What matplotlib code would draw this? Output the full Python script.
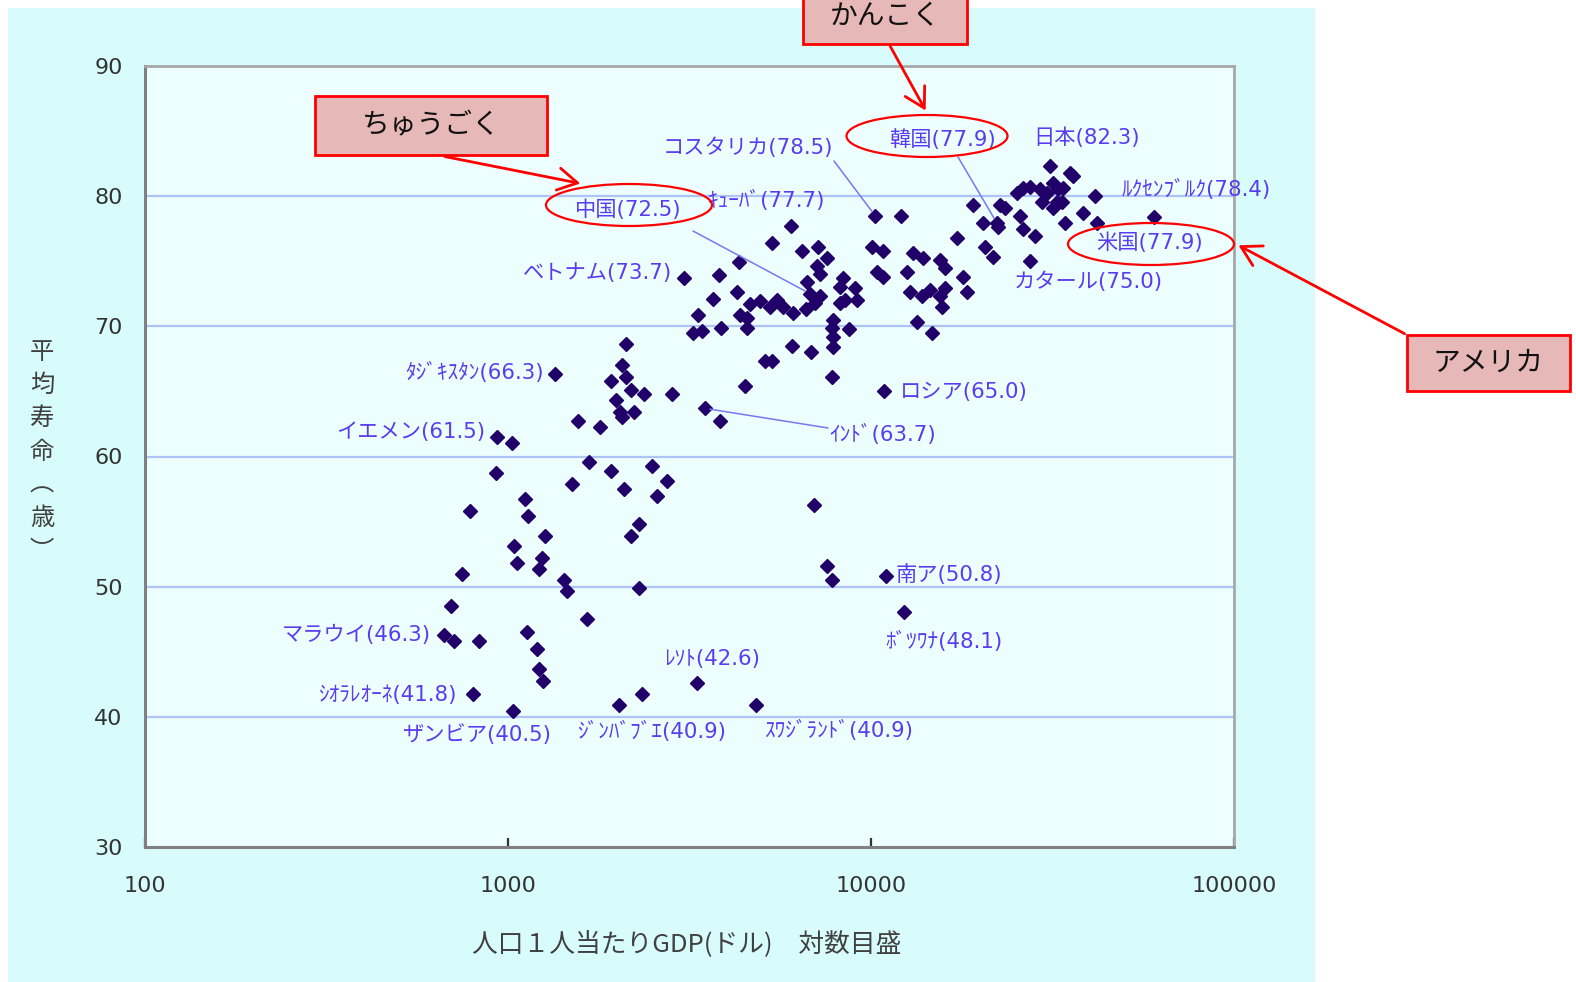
import matplotlib
matplotlib.use('Agg')
import matplotlib.pyplot as plt
from matplotlib.patches import Ellipse, Rectangle, FancyArrowPatch

# ---------------- data ----------------
gdp_other = [
    2114, 2061, 2114, 1922, 2182, 2369, 2830, 1984, 2035, 2061, 2225, 1559, 1793,
    1026, 1672, 1922, 2494, 2742, 2573, 2088, 1501, 927, 1114, 786, 1136, 2295,
    2182, 1265, 1039, 1059, 1241, 1217, 747, 1427, 1454, 2295, 697, 1651, 710,
    832, 1128, 1202, 1217, 1249, 2339, 3828, 3233,
    12099, 5338, 6457, 7147, 7566, 7101, 7238, 4329, 3813, 6665, 8375, 8216, 9036,
    9152, 4275, 3671, 4643, 4946, 5510, 5272, 5724, 6098, 6624, 7238, 7012, 8216,
    8482, 10067, 10794, 13056, 12568, 12810, 4357, 4555, 4555, 3338, 3863, 3423,
    7860, 7811, 7860, 7860, 8700, 6060, 6837, 5107, 5338, 7811, 4498, 13391,
    6968, 7566, 7811,
    35340, 36020, 26240, 27430, 25260, 29220, 31730, 32760, 33810, 30550, 29590,
    32550, 33590, 31730, 41420, 19100, 22670, 23400, 25740, 20350, 22390, 26240,
    28300, 34230, 38390, 17260, 20620, 21690, 13910, 15500, 15990, 10400, 10794,
    13840, 14540, 15990, 15500, 17930, 18390, 15690, 14730,
]
life_other = [
    68.6, 67.0, 66.1, 65.8, 65.1, 64.8, 64.8, 64.3, 63.4, 63.0, 63.4, 62.7, 62.3,
    61.0, 59.6, 58.9, 59.3, 58.1, 57.0, 57.5, 57.9, 58.7, 56.7, 55.8, 55.4, 54.8,
    53.9, 53.9, 53.1, 51.8, 52.2, 51.4, 51.0, 50.5, 49.7, 49.9, 48.5, 47.5, 45.8,
    45.8, 46.5, 45.2, 43.7, 42.8, 41.8, 62.7, 69.5,
    78.5, 76.4, 75.8, 76.1, 75.2, 74.6, 74.0, 74.9, 73.9, 73.4, 73.7, 73.0, 72.9,
    72.0, 72.6, 72.1, 71.7, 71.9, 72.0, 71.5, 71.5, 71.0, 71.3, 72.3, 71.8, 71.8,
    72.0, 76.1, 75.8, 75.6, 74.2, 72.6, 70.9, 70.6, 69.9, 70.9, 69.9, 69.6,
    70.5, 69.9, 69.2, 68.4, 69.8, 68.5, 68.0, 67.3, 67.3, 66.1, 65.4, 70.3,
    56.3, 51.6, 50.5,
    81.8, 81.5, 80.6, 80.7, 80.2, 80.5, 81.0, 80.5, 80.6, 80.2, 79.5,
    79.5, 79.5, 79.1, 80.0, 79.3, 79.3, 79.1, 78.5, 77.9, 77.6, 77.5,
    76.9, 77.9, 78.7, 76.8, 76.1, 75.3, 75.2, 75.1, 74.5, 74.2, 73.8,
    72.3, 72.8, 72.9, 72.3, 73.8, 72.6, 71.5, 69.5,
]

label_names = ['コスタリカ', '韓国', '日本', 'ﾙｸｾﾝﾌﾞﾙｸ', '米国', 'カタール', '中国',
               'ｷｭｰﾊﾞ', 'ベトナム', 'ﾀｼﾞｷｽﾀﾝ', 'イエメン', 'ロシア', 'ｲﾝﾄﾞ', '南ア',
               'ﾎﾞﾂﾜﾅ', 'マラウイ', 'ﾚｿﾄ', 'ｼｵﾗﾚｵｰﾈ', 'ザンビア', 'ｼﾞﾝﾊﾞﾌﾞｴ', 'ｽﾜｼﾞﾗﾝﾄﾞ']
label_gdp = [10259, 22250, 31140, 60250, 41950, 27430, 6794, 6022, 3053, 1347, 933,
             10862, 3478, 11000, 12290, 666, 3316, 801, 1032, 2022, 4823]
label_life = [78.5, 77.9, 82.3, 78.4, 77.9, 75.0, 72.5, 77.7, 73.7, 66.3, 61.5,
              65.0, 63.7, 50.8, 48.1, 46.3, 42.6, 41.8, 40.5, 40.9, 40.9]

y_ticks = [30, 40, 50, 60, 70, 80, 90]
x_ticks = [100, 1000, 10000, 100000]
x_tick_labels = ['100', '1000', '10000', '100000']
grid_levels = [40, 50, 60, 70, 80]

callouts = ['ちゅうごく', 'かんこく', 'アメリカ']
xlabel = '人口１人当たりGDP(ドル)　対数目盛'
ylabel_chars = ['平', '均', '寿', '命', '︵', '歳', '︶']

# ---------------- layout helpers ----------------
W, H = 1576, 982
JP = ['DejaVu Sans', 'Noto Sans CJK JP']
CJK = ['Noto Sans CJK JP', 'DejaVu Sans']


def fx(px):
    return px / W


def fy(py):
    return 1 - py / H


fig = plt.figure(figsize=(W / 100, H / 100), dpi=100)
fig.patch.set_facecolor('white')

# cyan panel behind everything
fig.patches.append(Rectangle((fx(8), 0), (1315 - 8) / W, (982 - 8) / H,
                             transform=fig.transFigure, facecolor='#d8fcfc',
                             edgecolor='none', zorder=-10))

ax_l, ax_r, ax_t, ax_b = 145, 1234, 65.7, 847.3
ax = fig.add_axes([fx(ax_l), fy(ax_b), (ax_r - ax_l) / W, (ax_b - ax_t) / H])
ax.set_zorder(1)
ax.set_facecolor('#ecfefe')
ax.set_xscale('log')
ax.set_xlim(100, 100000)
ax.set_ylim(30, 90)

for lv in grid_levels:
    ax.axhline(lv, color='#aec4f6', lw=1.6, zorder=1)

ax.plot(gdp_other, life_other, linestyle='none', marker='D', markersize=7.0,
        color='#22006a', zorder=3)
ax.plot(label_gdp, label_life, linestyle='none', marker='D', markersize=7.0,
        color='#22006a', zorder=3)

ax.set_xticks(x_ticks)
ax.set_xticklabels(x_tick_labels)
ax.minorticks_off()
ax.set_yticks(y_ticks)
ax.tick_params(axis='x', direction='in', length=6.5, width=1.6, color='#333333',
               pad=21, labelsize=16, labelcolor='#333333')
ax.tick_params(axis='y', length=0, pad=16, labelsize=16, labelcolor='#333333')
for lab in ax.get_xticklabels() + ax.get_yticklabels():
    lab.set_family('DejaVu Sans')

for side in ['left', 'bottom']:
    ax.spines[side].set_color('#808080')
    ax.spines[side].set_linewidth(2.2)
for side in ['top', 'right']:
    ax.spines[side].set_color('#a8a8a8')
    ax.spines[side].set_linewidth(2.0)

# axis titles
fig.text(fx(687), fy(944), xlabel, ha='center', va='center', fontsize=18.5,
         color='#404040', family=CJK)
y0 = 352
for i, ch in enumerate(ylabel_chars):
    fig.text(fx(42), fy(y0 + i * 33.2), ch, ha='center', va='center',
             fontsize=17.5, color='#404040', family=CJK)

# ---------------- country labels ----------------
label_pos = {
    'コスタリカ': (748, 148, 'center'), '韓国': (942, 140, 'center'),
    '日本': (1087, 138, 'center'), 'ﾙｸｾﾝﾌﾞﾙｸ': (1122, 189, 'left'),
    '米国': (1150, 243, 'center'), 'カタール': (1088, 282, 'center'),
    '中国': (628, 210, 'center'), 'ｷｭｰﾊﾞ': (767, 200, 'center'),
    'ベトナム': (672, 273, 'right'), 'ﾀｼﾞｷｽﾀﾝ': (544, 372, 'right'),
    'イエメン': (485, 432, 'right'), 'ロシア': (900, 392, 'left'),
    'ｲﾝﾄﾞ': (829, 434, 'left'), '南ア': (896, 575, 'left'),
    'ﾎﾞﾂﾜﾅ': (944, 641, 'center'), 'マラウイ': (431, 635, 'right'),
    'ﾚｿﾄ': (712, 659, 'center'), 'ｼｵﾗﾚｵｰﾈ': (457, 695, 'right'),
    'ザンビア': (477, 735, 'center'), 'ｼﾞﾝﾊﾞﾌﾞｴ': (652, 731, 'center'),
    'ｽﾜｼﾞﾗﾝﾄﾞ': (839, 730, 'center'),
}
label_color = '#5a3cf0'
for name, lf in zip(label_names, label_life):
    x, y, ha = label_pos[name]
    fig.text(fx(x), fy(y), f'{name}({lf:.1f})', ha=ha, va='center',
             fontsize=15.3, color=label_color, family=JP, zorder=5)

# leader lines: label side (figure px) -> data point
leaders = {'コスタリカ': (834, 161), '韓国': (958, 157), '中国': (693, 231),
           'ｲﾝﾄﾞ': (828, 428)}
for name, (px, py) in leaders.items():
    i = label_names.index(name)
    ax.annotate('', xy=(label_gdp[i], label_life[i]), xycoords='data',
                xytext=(fx(px), fy(py)), textcoords='figure fraction',
                arrowprops=dict(arrowstyle='-', color='#7878f0', lw=1.1,
                                shrinkA=0, shrinkB=4), zorder=4,
                annotation_clip=False)

# red ellipses
for (cx, cy, w, h) in [(629, 205, 166, 42), (927, 136, 161, 42), (1151, 244, 166, 42)]:
    fig.patches.append(Ellipse((fx(cx), fy(cy)), w / W, h / H,
                               transform=fig.transFigure, fill=False,
                               edgecolor='#ff0000', lw=1.6, zorder=6))

# callout boxes
boxes = [(315, 96, 547, 155), (803, -10, 967, 44), (1407, 335, 1570, 391)]
for text, (x0, yt, x1, yb) in zip(callouts, boxes):
    fig.patches.append(Rectangle((fx(x0), fy(yb)), (x1 - x0) / W, (yb - yt) / H,
                                 transform=fig.transFigure, facecolor='#e6b8b7',
                                 edgecolor='#ff0000', lw=2, zorder=6))
    ty = (yt + yb) / 2 if yt >= 0 else 16
    fig.text(fx((x0 + x1) / 2), fy(ty), text, ha='center', va='center',
             fontsize=20, color='#111111', family=CJK, zorder=7)

# red arrows
for (sx, sy, ex, ey) in [(442, 156, 583, 184), (889, 44, 927, 113), (1407, 335, 1236, 244)]:
    fig.patches.append(FancyArrowPatch(
        (fx(sx), fy(sy)), (fx(ex), fy(ey)), transform=fig.transFigure,
        arrowstyle='->,head_length=0.7,head_width=0.4', mutation_scale=20,
        color='#ff0000', lw=2, zorder=7))

fig.savefig('out.png', dpi=100)
